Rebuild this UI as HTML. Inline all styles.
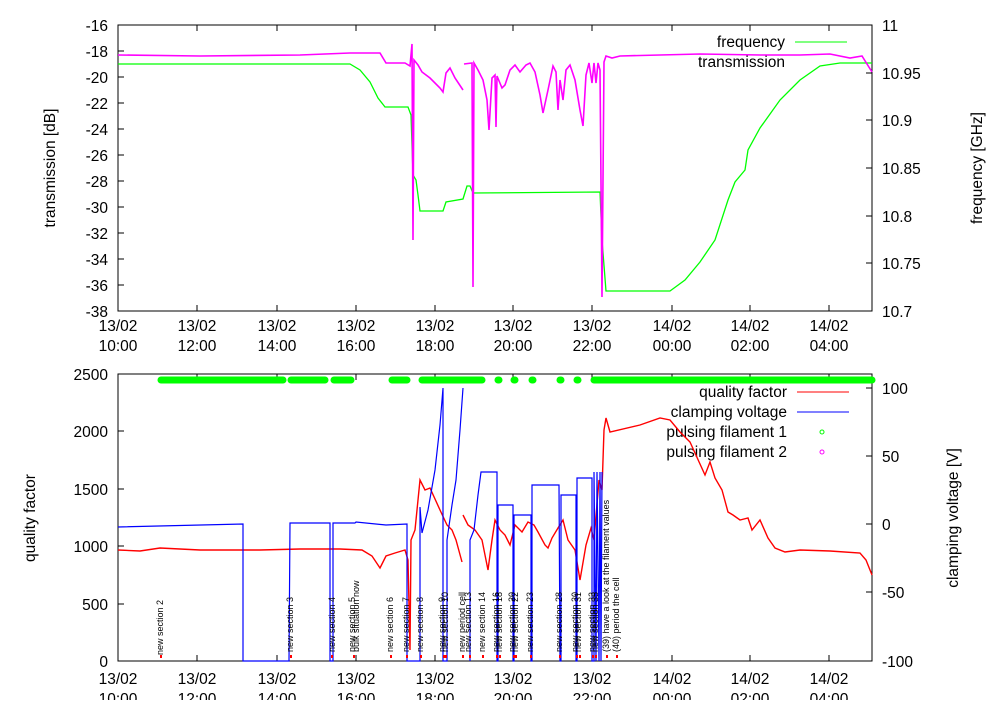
<!DOCTYPE html><html><head><style>body{margin:0;background:#fff}svg{font-family:"Liberation Sans",sans-serif}</style></head><body>
<svg width="1000" height="700" xmlns="http://www.w3.org/2000/svg">
<g font-size="15.5" fill="#000">
<rect x="118" y="25" width="754" height="286" fill="none" stroke="#000"/>
<g text-anchor="end">
<text x="108" y="31">-16</text><text x="108" y="57">-18</text><text x="108" y="83">-20</text><text x="108" y="109">-22</text><text x="108" y="135">-24</text><text x="108" y="161">-26</text><text x="108" y="187">-28</text><text x="108" y="213">-30</text><text x="108" y="239">-32</text><text x="108" y="265">-34</text><text x="108" y="291">-36</text><text x="108" y="317">-38</text>
</g>
<g text-anchor="start">
<text x="882" y="31">11</text><text x="882" y="79">10.95</text><text x="882" y="126">10.9</text><text x="882" y="174">10.85</text><text x="882" y="222">10.8</text><text x="882" y="269">10.75</text><text x="882" y="317">10.7</text>
</g>
<text transform="translate(55,168) rotate(-90)" text-anchor="middle">transmission [dB]</text>
<text transform="translate(982,168) rotate(-90)" text-anchor="middle">frequency [GHz]</text>
<g text-anchor="middle">
<text x="118" y="331">13/02</text><text x="118" y="351">10:00</text>
<text x="197" y="331">13/02</text><text x="197" y="351">12:00</text>
<text x="277" y="331">13/02</text><text x="277" y="351">14:00</text>
<text x="356" y="331">13/02</text><text x="356" y="351">16:00</text>
<text x="435" y="331">13/02</text><text x="435" y="351">18:00</text>
<text x="513" y="331">13/02</text><text x="513" y="351">20:00</text>
<text x="592" y="331">13/02</text><text x="592" y="351">22:00</text>
<text x="672" y="331">14/02</text><text x="672" y="351">00:00</text>
<text x="750" y="331">14/02</text><text x="750" y="351">02:00</text>
<text x="829" y="331">14/02</text><text x="829" y="351">04:00</text>
</g>
<g stroke="#000">
<path d="M118 25v6M197 25v6M277 25v6M356 25v6M435 25v6M513 25v6M592 25v6M672 25v6M750 25v6M829 25v6M118 311v-6M197 311v-6M277 311v-6M356 311v-6M435 311v-6M513 311v-6M592 311v-6M672 311v-6M750 311v-6M829 311v-6"/>
<path d="M118 51h6M118 77h6M118 103h6M118 129h6M118 155h6M118 181h6M118 207h6M118 233h6M118 259h6M118 285h6M872 73h-6M872 120h-6M872 168h-6M872 216h-6M872 263h-6"/>
</g>
<text x="785" y="47" text-anchor="end">frequency</text><path d="M795 42h52" stroke="#0f0"/>
<text x="785" y="67" text-anchor="end">transmission</text>
<polyline fill="none" stroke="#0f0" stroke-width="1.3" points="118,64 350,64 360,70 370,82 378,98 385,107 408,107 411,115 413,175 416,180 418,195 420,211 443,211 446,202 463,199 467,186 470,186 473,193 600,192 602,240 606,291 670,291 685,280 700,262 715,240 728,200 735,182 745,170 748,150 760,128 780,100 800,80 820,66 840,63 872,63"/>
<polyline fill="none" stroke="#f0f" stroke-width="1.6" points="118,55 200,56 300,55 350,53 380,53 386,63 405,63 410,66 412,44 413,240 414,60 418,65 422,72 430,78 440,88 443,92 446,73 450,68 455,78 463,90"/>
<polyline fill="none" stroke="#f0f" stroke-width="1.6" points="464,64 472,63 473,287 474,63 478,70 483,80 487,100 489,130 492,78 495,75 496,127 497,76 502,88 505,85 510,70 515,65 520,72 526,65 530,63 535,72 540,95 543,113 548,90 553,66 556,72 558,110 560,80 563,100 566,70 570,65 575,80 580,110 583,126 586,75 589,63 592,83 594,63 596,83 598,63 600,70 602,297 604,62 606,56 612,58 620,56 700,54 760,55 800,55 830,54 850,58 862,56 872,72"/>
<rect x="118" y="374" width="754" height="287" fill="none" stroke="#000"/>
<g text-anchor="end">
<text x="108" y="380">2500</text><text x="108" y="437">2000</text><text x="108" y="495">1500</text><text x="108" y="552">1000</text><text x="108" y="610">500</text><text x="108" y="667">0</text>
</g>
<g text-anchor="start">
<text x="882" y="394">100</text><text x="882" y="462">50</text><text x="882" y="530">0</text><text x="882" y="598">-50</text><text x="882" y="667">-100</text>
</g>
<text transform="translate(35,518) rotate(-90)" text-anchor="middle">quality factor</text>
<text transform="translate(958,518) rotate(-90)" text-anchor="middle">clamping voltage [V]</text>
<g text-anchor="middle">
<text x="118" y="684">13/02</text><text x="118" y="704">10:00</text>
<text x="197" y="684">13/02</text><text x="197" y="704">12:00</text>
<text x="277" y="684">13/02</text><text x="277" y="704">14:00</text>
<text x="356" y="684">13/02</text><text x="356" y="704">16:00</text>
<text x="435" y="684">13/02</text><text x="435" y="704">18:00</text>
<text x="513" y="684">13/02</text><text x="513" y="704">20:00</text>
<text x="592" y="684">13/02</text><text x="592" y="704">22:00</text>
<text x="672" y="684">14/02</text><text x="672" y="704">00:00</text>
<text x="750" y="684">14/02</text><text x="750" y="704">02:00</text>
<text x="829" y="684">14/02</text><text x="829" y="704">04:00</text>
</g>
<g stroke="#000">
<path d="M118 374v6M197 374v6M277 374v6M356 374v6M435 374v6M513 374v6M592 374v6M672 374v6M750 374v6M829 374v6M118 661v-6M197 661v-6M277 661v-6M356 661v-6M435 661v-6M513 661v-6M592 661v-6M672 661v-6M750 661v-6M829 661v-6"/>
<path d="M118 431h6M118 489h6M118 546h6M118 604h6M872 388h-6M872 456h-6M872 524h-6M872 592h-6"/>
</g>
<text x="787" y="397" text-anchor="end">quality factor</text><path d="M797 392h52" stroke="#f00"/>
<text x="787" y="417" text-anchor="end">clamping voltage</text><path d="M797 412h52" stroke="#00f"/>
<text x="787" y="437" text-anchor="end">pulsing filament 1</text><circle cx="822" cy="432" r="2" fill="none" stroke="#0f0"/>
<text x="787" y="457" text-anchor="end">pulsing filament 2</text><circle cx="822" cy="452" r="2" fill="none" stroke="#f0f"/>
</g>
<g stroke="#0f0" stroke-width="7" stroke-linecap="round">
<path d="M161 380H283M291 380H325M334 380H351M392 380H407M422 380H482M498 380h1M514 380h1M532 380h1M560 380h1M577 380h1M594 380H872"/>
</g>
<polyline fill="none" stroke="#f00" stroke-width="1.4" points="118,550 140,551 160,548 200,550 260,550 300,549 340,549 362,550 372,556 380,568 386,556 395,553 405,550 408,560 410,650 411,540 415,530 420,480 425,490 430,488 440,510 447,525 452,530 456,540 462,562"/>
<polyline fill="none" stroke="#f00" stroke-width="1.4" points="463,515 468,525 475,530 482,540 488,570 492,540 495,520 500,530 505,535 510,545 515,525 522,532 528,522 534,525 538,532 545,545 548,548 552,538 558,528 563,520 568,540 575,550 580,580 586,545 591,528 594,540 599,480 602,490 604,430 606,418 610,432 640,425 660,418 670,420 680,432 690,442 700,464 705,475 710,462 715,478 722,490 728,512 733,515 740,520 748,518 752,530 760,520 768,538 775,548 785,552 800,550 830,551 860,553 866,560 872,575"/>
<polyline fill="none" stroke="#00f" stroke-width="1.2" points="118,527 243,524 243,661 244,661 289,661 290,523 330,523 330,661 333,661 333,523 355,523 356,522 386,525 407,524 407,661 420,661 420,507 422,533 428,510 435,470 440,425 443,388 443,661 447,661 447,540 452,505 456,480 460,430 463,388"/>
<polyline fill="none" stroke="#00f" stroke-width="1.2" points="470,661 470,540 474,530 478,495 481,472 497,472 497,661 498,661 498,505 513,505 513,661 514,661 514,515 531,515 531,661 532,661 532,485 559,485 560,661 561,661 561,495 576,495 576,661 577,661 577,478 592,478 592,661 594,661 594,472 596,661 597,472 599,661 600,472 601,661 602,472"/>
<g font-size="9" fill="#000">
<text transform="translate(163,655) rotate(-90)">new section 2</text>
<text transform="translate(293,652) rotate(-90)">new section 3</text>
<text transform="translate(335,652) rotate(-90)">new section 4</text>
<text transform="translate(355,652) rotate(-90)">new section 5</text>
<text transform="translate(359,652) rotate(-90)">bulk situation now</text>
<text transform="translate(393,652) rotate(-90)">new section 6</text>
<text transform="translate(409,652) rotate(-90)">new section 7</text>
<text transform="translate(423,652) rotate(-90)">new section 8</text>
<text transform="translate(445,652) rotate(-90)">new section 9</text>
<text transform="translate(448,652) rotate(-90)">new section 10</text>
<text transform="translate(465,652) rotate(-90)">new period cell</text>
<text transform="translate(471,652) rotate(-90)">new section 13</text>
<text transform="translate(485,652) rotate(-90)">new section 14</text>
<text transform="translate(499,652) rotate(-90)">new section 16</text>
<text transform="translate(502,652) rotate(-90)">new section 18</text>
<text transform="translate(515,652) rotate(-90)">new section 20</text>
<text transform="translate(518,652) rotate(-90)">new section 22</text>
<text transform="translate(533,652) rotate(-90)">new section 23</text>
<text transform="translate(562,652) rotate(-90)">new section 28</text>
<text transform="translate(578,652) rotate(-90)">new section 30</text>
<text transform="translate(581,652) rotate(-90)">new section 31</text>
<text transform="translate(595,652) rotate(-90)">new section 33</text>
<text transform="translate(598,652) rotate(-90)">new section 35</text>
<text transform="translate(609,652) rotate(-90)">(39) have a look at the filament values</text>
<text transform="translate(619,652) rotate(-90)">(40) period the cell</text>
</g>
<g stroke="#f00" stroke-width="2">
<path d="M161 655v3M291 655v3M332 655v3M354 655v3M391 655v3M407 655v3M421 655v3M444 655v3M446 655v3M463 655v3M470 655v3M483 655v3M497 655v3M500 655v3M514 655v3M516 655v3M531 655v3M560 655v3M577 655v3M580 655v3M593 655v3M596 655v3M607 655v3M617 655v3"/>
</g>
</svg>
</body></html>
